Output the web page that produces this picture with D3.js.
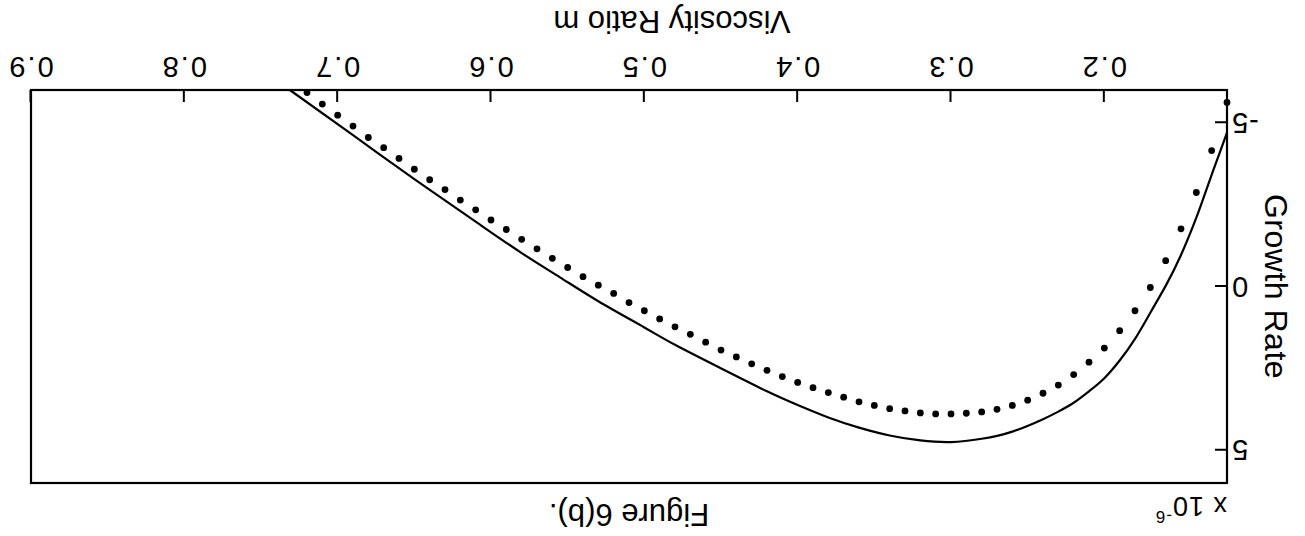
<!DOCTYPE html>
<html lang="en">
<head>
  <meta charset="UTF-8">
  <script src="https://cdnjs.cloudflare.com/ajax/libs/d3/7.8.5/d3.min.js"></script>
  <style>
    body { margin: 0; background: #fff; font-family: 'Liberation Sans', Arial, sans-serif; }
  </style>
  <title>Figure 6(b)</title>
</head>
<body>
  <div id="chart"></div>
<script>
  // dotted series: viscosity ratio m, growth rate (x 1e-6)
  var dotM = [0.12, 0.13, 0.14, 0.15, 0.16, 0.17, 0.18, 0.19, 0.20, 0.21, 0.22, 0.23, 0.24, 0.25,
    0.26, 0.27, 0.28, 0.29, 0.30, 0.31, 0.32, 0.33, 0.34, 0.35, 0.36, 0.37, 0.38, 0.39, 0.40,
    0.41, 0.42, 0.43, 0.44, 0.45, 0.46, 0.47, 0.48, 0.49, 0.50, 0.51, 0.52, 0.53, 0.54, 0.55,
    0.56, 0.57, 0.58, 0.59, 0.60, 0.61, 0.62, 0.63, 0.64, 0.65, 0.66, 0.67, 0.68, 0.69, 0.70,
    0.71, 0.72];
  var dotG = [-5.62, -4.15, -2.87, -1.76, -0.79, 0.03, 0.74, 1.35, 1.88, 2.31, 2.69, 3.01, 3.26, 3.47,
    3.63, 3.75, 3.83, 3.87, 3.89, 3.89, 3.86, 3.80, 3.73, 3.63, 3.52, 3.38, 3.24, 3.09, 2.93,
    2.75, 2.56, 2.36, 2.15, 1.94, 1.70, 1.46, 1.23, 0.99, 0.74, 0.49, 0.21, -0.04, -0.30, -0.58,
    -0.86, -1.15, -1.44, -1.74, -2.03, -2.34, -2.64, -2.96, -3.26, -3.58, -3.91, -4.24, -4.55, -4.90, -5.23,
    -5.57, -5.92];

  // solid series
  var lineM = [0.12, 0.127, 0.134, 0.14, 0.15, 0.16, 0.17, 0.18, 0.19, 0.20, 0.21, 0.22, 0.23, 0.24,
    0.26, 0.28, 0.30, 0.32, 0.34, 0.36, 0.38, 0.40, 0.42, 0.45, 0.48, 0.50, 0.53, 0.555, 0.58,
    0.61, 0.65, 0.69, 0.7312];
  var lineG = [-4.70, -3.80, -2.88, -2.10, -0.96, -0.02, 0.80, 1.60, 2.26, 2.80, 3.20, 3.55, 3.82, 4.05,
    4.43, 4.65, 4.75, 4.70, 4.55, 4.31, 4.00, 3.62, 3.20, 2.50, 1.78, 1.25, 0.45, -0.28, -1.02,
    -1.98, -3.28, -4.62, -6.0];

  var xTicks = [0.2, 0.3, 0.4, 0.5, 0.6, 0.7, 0.8, 0.9];
  var yTicks = [-5, 0, 5];

  var W = 1305, H = 536;
  var frame = { left: 78, right: 1274, top: 53, bottom: 446 };
  var font = "'Liberation Sans', Arial, sans-serif";

  var svg = d3.select("#chart").append("svg")
    .attr("width", W)
    .attr("height", H)
    .attr("font-family", font);

  // the scanned page is upside down, so draw normally and turn it round
  var g = svg.append("g")
    .attr("transform", "rotate(180," + W / 2 + "," + H / 2 + ")");

  var x = d3.scaleLinear().domain([0.12, 0.9]).range([frame.left, frame.right]);
  var y = d3.scaleLinear().domain([-6, 6]).range([frame.bottom, frame.top]);

  // x axis, ticks pointing inward
  var xAxis = g.append("g")
    .attr("transform", "translate(0," + frame.bottom + ")")
    .call(d3.axisBottom(x).tickValues(xTicks).tickSize(-12).tickSizeOuter(0).tickPadding(12)
      .tickFormat(d3.format(".1f")));
  xAxis.select(".domain").remove();
  xAxis.selectAll(".tick line").attr("stroke", "#000").attr("stroke-width", 2);
  xAxis.selectAll(".tick text")
    .attr("font-family", font)
    .attr("font-size", 29)
    .attr("letter-spacing", 2)
    .attr("fill", "#000");

  // y axis
  var yAxis = g.append("g")
    .attr("transform", "translate(" + frame.left + ",0)")
    .call(d3.axisLeft(y).tickValues(yTicks).tickSize(-12).tickSizeOuter(0).tickPadding(4)
      .tickFormat(function (d) { return d; }));
  yAxis.select(".domain").remove();
  yAxis.selectAll(".tick line").attr("stroke", "#000").attr("stroke-width", 2);
  yAxis.selectAll(".tick text")
    .attr("font-family", font)
    .attr("font-size", 29)
    .attr("letter-spacing", 1)
    .attr("fill", "#000");

  // frame
  g.append("rect")
    .attr("x", frame.left)
    .attr("y", frame.top)
    .attr("width", frame.right - frame.left)
    .attr("height", frame.bottom - frame.top)
    .attr("fill", "none")
    .attr("stroke", "#000")
    .attr("stroke-width", 2.2);

  // solid curve
  var lineData = lineM.map(function (m, i) { return { m: m, g: lineG[i] }; });
  g.append("path")
    .datum(lineData)
    .attr("fill", "none")
    .attr("stroke", "#000")
    .attr("stroke-width", 2.2)
    .attr("d", d3.line()
      .x(function (d) { return x(d.m); })
      .y(function (d) { return y(d.g); })
      .curve(d3.curveNatural));

  // dotted series
  var dotData = dotM.map(function (m, i) { return { m: m, g: dotG[i] }; });
  g.selectAll(".dot")
    .data(dotData)
    .enter().append("circle")
    .attr("class", "dot")
    .attr("cx", function (d) { return x(d.m); })
    .attr("cy", function (d) { return y(d.g); })
    .attr("r", 3.4)
    .attr("fill", "#000");

  // labels
  g.append("text")
    .attr("x", 633)
    .attr("y", 525)
    .attr("text-anchor", "middle")
    .attr("font-size", 31)
    .text("Viscosity Ratio m");

  g.append("text")
    .attr("transform", "translate(40," + y(0) + ") rotate(-90)")
    .attr("text-anchor", "middle")
    .attr("font-size", 32)
    .attr("letter-spacing", 0.5)
    .text("Growth Rate");

  g.append("text")
    .attr("x", 676)
    .attr("y", 32)
    .attr("text-anchor", "middle")
    .attr("font-size", 31)
    .text("Figure 6(b).");

  var sci = g.append("text")
    .attr("x", frame.left)
    .attr("y", 39)
    .attr("font-size", 27)
    .attr("letter-spacing", 1);
  sci.append("tspan").text("x 10");
  sci.append("tspan").attr("font-size", 17).attr("dy", -14).text("-6");
</script>
</body>
</html>
